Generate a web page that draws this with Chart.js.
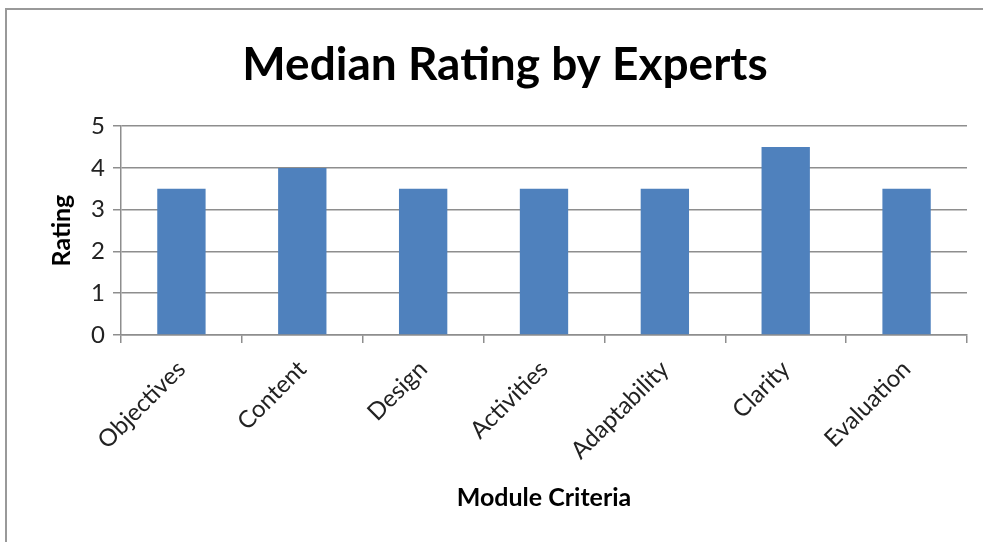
<!DOCTYPE html>
<html>
<head>
<meta charset="utf-8">
<script src="https://cdn.jsdelivr.net/npm/chart.js@4"></script>
<style>
  html, body { margin: 0; padding: 0; background: #fff; overflow: hidden; }
  #frame {
    position: absolute; left: 5px; top: 8px;
    width: 978px; height: 534px;
    border-left: 2px solid #999; border-top: 2px solid #999;
    box-sizing: border-box; overflow: hidden;
  }
  #wrap { position: absolute; left: 0; top: 0; width: 980px; height: 534px; }
</style>
</head>
<body>
<div id="frame"><div id="wrap"><canvas id="chart"></canvas></div></div>
<script>
// Median Rating by Experts

const categories = ["Objectives", "Content", "Design", "Activities", "Adaptability", "Clarity", "Evaluation"];
const medianRatings = [3.5, 4, 3.5, 3.5, 3.5, 4.5, 3.5];
const yTicks = [0, 1, 2, 3, 4, 5];

const FONT = "Lato, 'Open Sans', sans-serif";
const GRID = "#8e8e8e";

new Chart(document.getElementById("chart"), {
  type: "bar",
  data: {
    labels: categories,
    datasets: [
      {
        label: "Median Rating",
        data: medianRatings,
        backgroundColor: "#4f81bd",
        borderWidth: 0,
        barPercentage: 0.4,
        categoryPercentage: 1,
      },
    ],
  },
  options: {
    responsive: true,
    maintainAspectRatio: false,
    animation: false,
    layout: { padding: { left: 36, right: 20, top: 0, bottom: 27 } },
    plugins: {
      legend: { display: false },
      tooltip: { enabled: false },
      title: {
        display: true,
        text: "Median Rating by Experts",
        color: "#000",
        font: { family: FONT, size: 46, weight: "bold" },
        padding: { top: 28, bottom: 33 },
      },
    },
    scales: {
      x: {
        grid: { drawOnChartArea: false, drawTicks: true, tickLength: 8, color: GRID, lineWidth: 1.5 },
        border: { display: true, color: GRID, width: 1.5 },
        ticks: {
          color: "#222",
          font: { family: FONT, size: 24 },
          minRotation: 45,
          maxRotation: 45,
          padding: 12,
        },
        title: {
          display: true,
          text: "Module Criteria",
          color: "#000",
          font: { family: FONT, size: 25, weight: "bold" },
          padding: { top: 4, bottom: 4 },
        },
        afterFit: s => { s.height = 182; },
      },
      y: {
        min: 0,
        max: 5,
        afterBuildTicks: s => { s.ticks = yTicks.map(v => ({ value: v })); },
        grid: { color: GRID, lineWidth: 1.5, tickLength: 8 },
        border: { display: true, color: GRID, width: 1.5 },
        ticks: {
          color: "#222",
          font: { family: FONT, size: 24 },
          padding: 8,
        },
        title: {
          display: true,
          text: "Rating",
          color: "#000",
          font: { family: FONT, size: 25, weight: "bold" },
          padding: { top: 4, bottom: 4 },
        },
        afterFit: s => { s.width = 78; },
      },
    },
  },
});
</script>
</body>
</html>
